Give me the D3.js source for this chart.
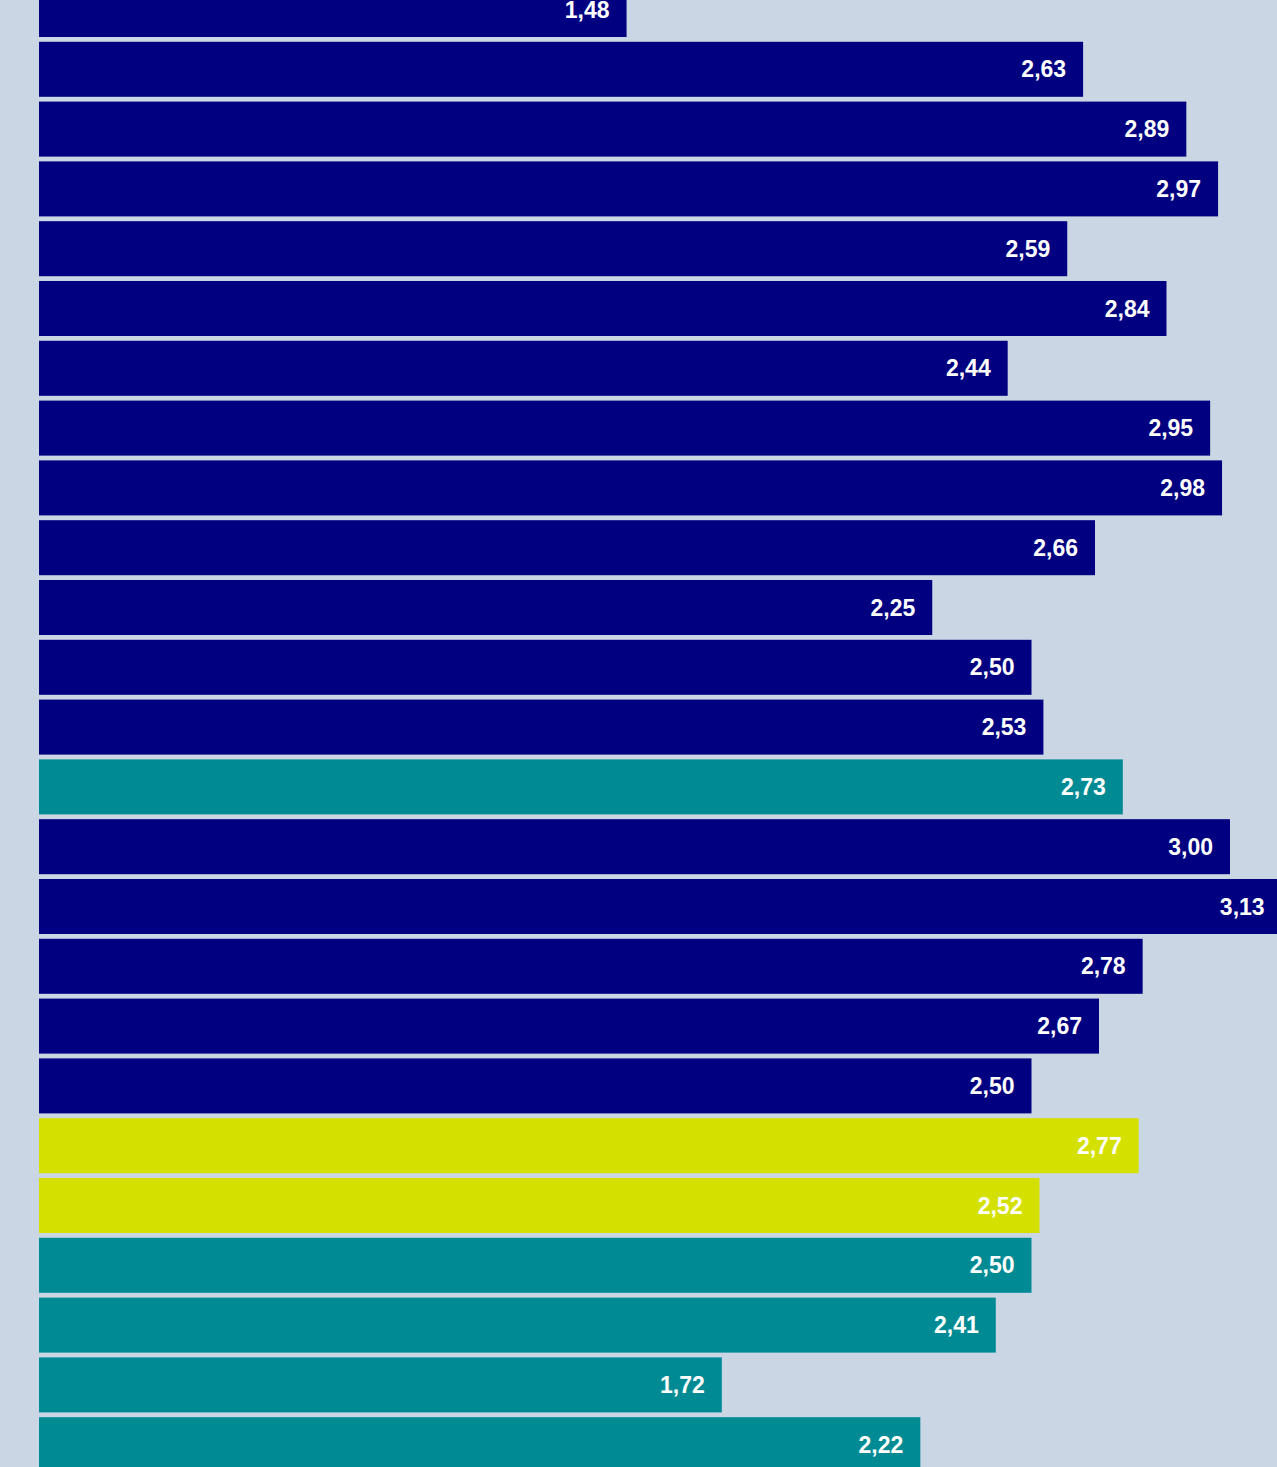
<!DOCTYPE html>
<html>
<head>
<meta charset="utf-8">
<script src="https://cdn.jsdelivr.net/npm/d3@7"></script>
<style>
  html, body { margin: 0; padding: 0; background: #cbd6e4; overflow: hidden; }
  svg { display: block; }
  .label { font-family: "Liberation Sans", Arial, sans-serif; font-weight: bold; font-size: 23px; fill: #fff; }
</style>
</head>
<body>
<div id="chart"></div>
<script>
var width = 1277, height = 1467;

// values, top to bottom
var values = [1.48, 2.63, 2.89, 2.97, 2.59, 2.84, 2.44, 2.95, 2.98, 2.66, 2.25, 2.50, 2.53,
              2.73, 3.00, 3.13, 2.78, 2.67, 2.50, 2.77, 2.52, 2.50, 2.41, 1.72, 2.22];
// colour group per bar
var groups = ["n", "n", "n", "n", "n", "n", "n", "n", "n", "n", "n", "n", "n",
              "t", "n", "n", "n", "n", "n", "y", "y", "t", "t", "t", "t"];

var color = d3.scaleOrdinal()
	.domain(["n", "t", "y"])
	.range(["#000080", "#008b94", "#d4e000"]);

var x = d3.scaleLinear().domain([0, 3]).range([39, 1230]);

var y = d3.scaleBand()
	.domain(d3.range(values.length))
	.range([-20.4, -20.4 + values.length * 59.8])
	.paddingInner(0.08)
	.paddingOuter(0.04);

var fmt = d3.format(".2f");

var svg = d3.select("#chart").append("svg")
	.attr("width", width)
	.attr("height", height);

var bar = svg.selectAll("g.bar").data(values)
	.enter().append("g")
	.attr("class", "bar");

bar.append("rect")
	.attr("x", x(0))
	.attr("y", function (d, i) { return y(i); })
	.attr("width", function (d) { return x(d) - x(0); })
	.attr("height", y.bandwidth())
	.attr("fill", function (d, i) { return color(groups[i]); });

bar.append("text")
	.attr("class", "label")
	.attr("text-anchor", "end")
	.attr("x", function (d) { return x(d) - 17; })
	.attr("y", function (d, i) { return y(i) + y.bandwidth() / 2 + 8; })
	.text(function (d) { return fmt(d).replace(".", ","); });
</script>
</body>
</html>
